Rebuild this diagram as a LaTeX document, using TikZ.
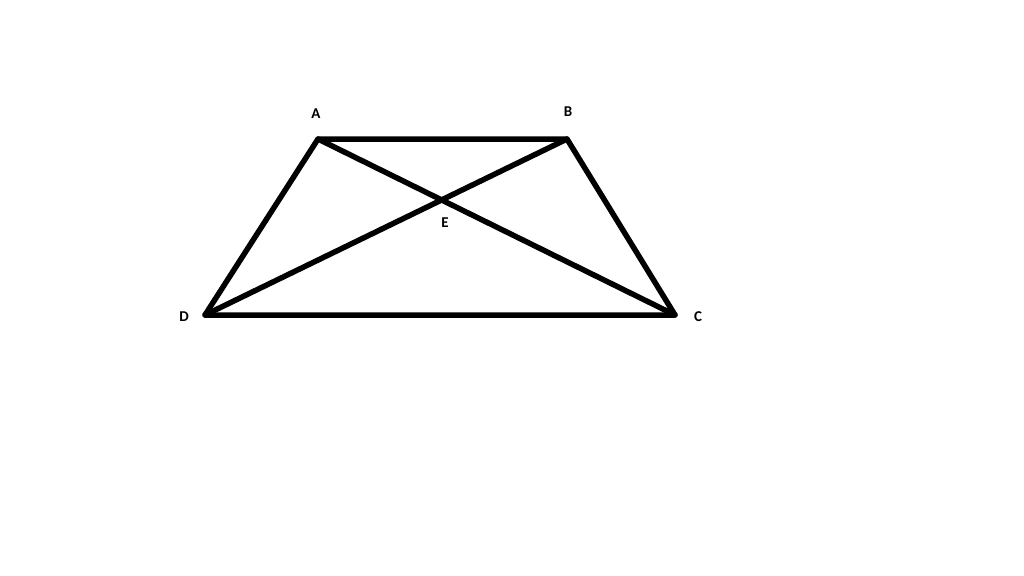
\documentclass[tikz,border=0pt]{standalone}
\usepackage{fontspec}
\setmainfont{Carlito}
\begin{document}
\begin{tikzpicture}[x=1pt,y=-1pt,
  edge/.style={line width=5.5pt,line join=round,line cap=round},
  lbl/.style={font=\bfseries\fontsize{15}{17}\selectfont,inner sep=0pt}]
\useasboundingbox[fill=white] (0,0) rectangle (1024,575);
\coordinate (A) at (318,139);
\coordinate (B) at (567,139);
\coordinate (C) at (675,315);
\coordinate (D) at (205,315);
\draw[edge] (A) -- (B) -- (C) -- (D) -- cycle;
\draw[edge] (A) -- (C);
\draw[edge] (B) -- (D);
\node[lbl] (la) at (316,114) {A};
\node[lbl] (lb) at (568,112) {B};
\node[lbl] (lc) at (698,317) {C};
\node[lbl] (ld) at (184,317) {D};
\node[lbl] (le) at (445,223) {E};
\end{tikzpicture}
\end{document}
